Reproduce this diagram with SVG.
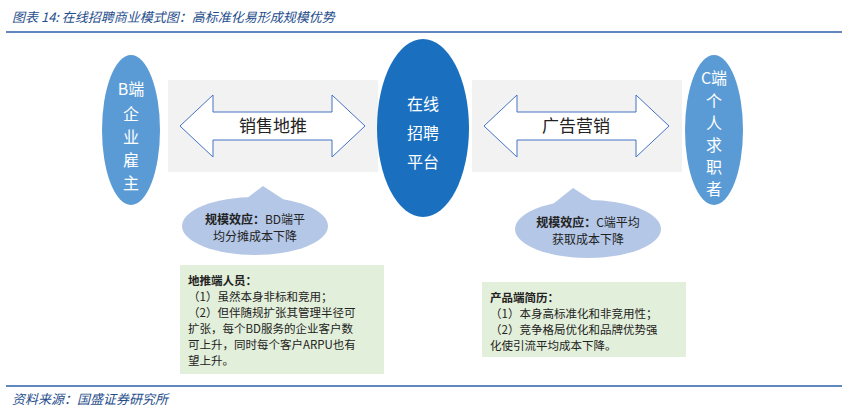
<svg xmlns="http://www.w3.org/2000/svg" width="854" height="414" viewBox="0 0 854 414">
<style>
text{font-family:"Noto Sans CJK SC",sans-serif}
.hd{fill:#1f4e8c;font-style:italic;font-size:13px}
.side{fill:#5b9bd5}
.wt{fill:#fff;font-size:16px;text-anchor:middle}
.gray{fill:#f2f2f2}
.arr{fill:#fff;stroke:#4472c4;stroke-width:1}
.call{fill:#b4c7e7}
.ct{font-size:12px;text-anchor:middle;fill:#222}
.green{fill:#e2efda}
.gt{font-size:11.5px;fill:#222}
</style>
<rect width="854" height="414" fill="#fff"/>
<text class="hd" x="12" y="22">图表 14:  在线招聘商业模式图：高标准化易形成规模优势</text>
<line x1="6" y1="32" x2="842" y2="32" stroke="#2e5fa8" stroke-width="1.5"/>
<g id="grayL"><rect class="gray" x="168" y="80" width="210" height="92"/></g>
<g id="grayR"><rect class="gray" x="472" y="80" width="210" height="92"/></g>
<g id="connectors">
<polygon class="arr" points="180,126 213,95 213,112 332,112 332,95 365,126 332,157 332,140 213,140 213,157"/>
<polygon class="arr" points="484,126 517,95 517,112 636,112 636,95 669,126 636,157 636,140 517,140 517,157"/>
<polygon class="call" points="238,205 263,186 292,205"/>
<polygon class="call" points="548,208 573,188 604,208"/>
</g>
<text x="273" y="132" font-size="17" text-anchor="middle" fill="#222">销售地推</text>
<text x="576" y="132" font-size="17" text-anchor="middle" fill="#222">广告营销</text>
<g id="nodeB"><ellipse class="side" cx="131" cy="130" rx="29" ry="75"/>
<text class="wt" x="131" y="95" font-size="13">B端</text><text class="wt" x="131" y="120">企</text><text class="wt" x="131" y="143">业</text><text class="wt" x="131" y="166">雇</text><text class="wt" x="131" y="189">主</text></g>
<g id="nodeCenter"><ellipse fill="#1a6fbf" cx="423" cy="128" rx="46" ry="89"/>
<text class="wt" x="423" y="110" font-size="21">在线</text><text class="wt" x="423" y="139" font-size="21">招聘</text><text class="wt" x="423" y="168" font-size="21">平台</text></g>
<g id="nodeC"><ellipse class="side" cx="714" cy="130" rx="29" ry="75"/>
<text class="wt" x="714" y="84" font-size="13">C端</text><text class="wt" x="714" y="107">个</text><text class="wt" x="714" y="129">人</text><text class="wt" x="714" y="151">求</text><text class="wt" x="714" y="173">职</text><text class="wt" x="714" y="195">者</text></g>
<g id="calloutL"><ellipse class="call" cx="255" cy="226" rx="73" ry="29"/>
<text class="ct" x="255" y="224"><tspan font-weight="bold">规模效应：</tspan>BD端平</text><text class="ct" x="255" y="241">均分摊成本下降</text></g>
<g id="calloutR"><ellipse class="call" cx="588" cy="229" rx="73" ry="29"/>
<text class="ct" x="588" y="227"><tspan font-weight="bold">规模效应：</tspan>C端平均</text><text class="ct" x="588" y="244">获取成本下降</text></g>
<g id="boxL"><rect class="green" x="180" y="265" width="204" height="109"/>
<text class="gt" x="188" y="285" font-weight="bold">地推端人员：</text>
<text class="gt" x="188" y="301">（1）虽然本身非标和竞用；</text>
<text class="gt" x="188" y="317">（2）但伴随规扩张其管理半径可</text>
<text class="gt" x="188" y="333">扩张，每个BD服务的企业客户数</text>
<text class="gt" x="188" y="349">可上升，同时每个客户ARPU也有</text>
<text class="gt" x="188" y="365">望上升。</text></g>
<g id="boxR"><rect class="green" x="482" y="282" width="204" height="75"/>
<text class="gt" x="490" y="302" font-weight="bold">产品端简历：</text>
<text class="gt" x="490" y="318">（1）本身高标准化和非竞用性；</text>
<text class="gt" x="490" y="334">（2）竞争格局优化和品牌优势强</text>
<text class="gt" x="490" y="350">化使引流平均成本下降。</text></g>
<line x1="6" y1="386" x2="842" y2="386" stroke="#2e5fa8" stroke-width="1.5"/>
<text class="hd" x="12" y="404">资料来源：国盛证券研究所</text>
</svg>
